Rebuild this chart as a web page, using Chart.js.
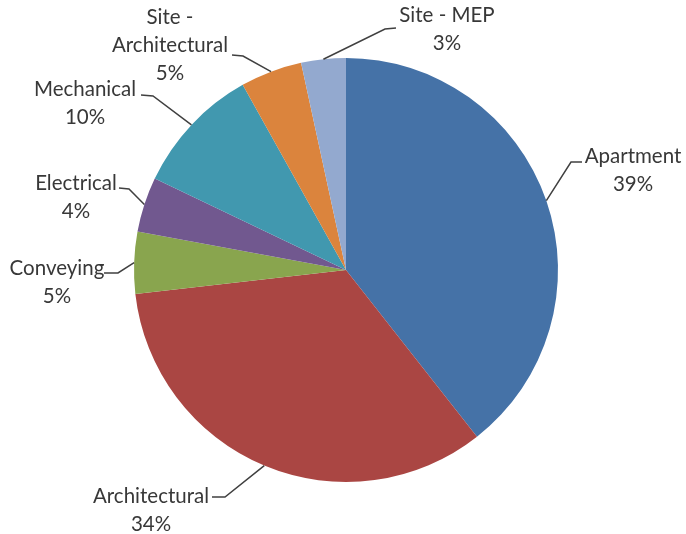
<!DOCTYPE html>
<html>
<head>
<meta charset="utf-8">
<script src="https://cdn.jsdelivr.net/npm/chart.js@4/dist/chart.umd.min.js"></script>
<style>
  html, body { margin: 0; padding: 0; background: #fff; }
  #wrap { width: 686px; height: 534px; }
</style>
</head>
<body>
<div id="wrap"><canvas id="pie"></canvas></div>
<script>
// slice data, clockwise from 12 o'clock
const categories = ['Apartment', 'Architectural', 'Conveying', 'Electrical', 'Mechanical', 'Site - Architectural', 'Site - MEP'];
const shares = [39.4, 33.8, 4.7, 4.2, 9.8, 4.7, 3.4];
const sliceColors = ['#4572A7', '#AA4643', '#89A54E', '#71588F', '#4198AF', '#DB843D', '#93A9CF'];

// label text lines (name split like the original)
const labelLines = [['Apartment'], ['Architectural'], ['Conveying'], ['Electrical'], ['Mechanical'], ['Site -', 'Architectural'], ['Site - MEP']];

// label layout: text centre x, first line y, leader start and elbow
const labelLayout = [
  { x: 633, y: 156, sx: 582, sy: 162, ex: 571, ey: 162 },
  { x: 151, y: 496, sx: 212, sy: 497, ex: 225, ey: 497 },
  { x: 57,  y: 268, sx: 104, sy: 273, ex: 118, ey: 273 },
  { x: 76,  y: 183, sx: 119, sy: 188, ex: 129, ey: 189 },
  { x: 85,  y: 89,  sx: 141, sy: 95,  ex: 153, ey: 96 },
  { x: 170, y: 17,  sx: 232, sy: 55,  ex: 243, ey: 56 },
  { x: 447, y: 15,  sx: 396, sy: 28,  ex: 385, ey: 29 }
];
const lineGap = 28;

const pieLabels = {
  id: 'pieLabels',
  afterDatasetsDraw(chart) {
    const ctx = chart.ctx;
    const arcs = chart.getDatasetMeta(0).data;
    ctx.save();
    ctx.font = '20.5px Lato';
    ctx.fillStyle = '#383838';
    ctx.strokeStyle = '#404040';
    ctx.lineWidth = 1.5;
    ctx.textAlign = 'center';
    ctx.textBaseline = 'middle';
    arcs.forEach((arc, i) => {
      const p = arc.getProps(['x', 'y', 'startAngle', 'endAngle', 'outerRadius'], true);
      const mid = (p.startAngle + p.endAngle) / 2;
      const px = p.x + Math.cos(mid) * p.outerRadius;
      const py = p.y + Math.sin(mid) * p.outerRadius;
      const L = labelLayout[i];
      ctx.beginPath();
      ctx.moveTo(L.sx, L.sy);
      ctx.lineTo(L.ex, L.ey);
      ctx.lineTo(px, py);
      ctx.stroke();
      const lines = labelLines[i].concat([Math.round(shares[i]) + '%']);
      lines.forEach((t, k) => ctx.fillText(t, L.x, L.y + k * lineGap));
    });
    ctx.restore();
  }
};

new Chart(document.getElementById('pie'), {
  type: 'pie',
  data: {
    labels: categories,
    datasets: [{ data: shares, backgroundColor: sliceColors, borderWidth: 0 }]
  },
  options: {
    responsive: true,
    maintainAspectRatio: false,
    animation: false,
    layout: { padding: { left: 134, right: 128, top: 58, bottom: 52 } },
    plugins: { legend: { display: false }, tooltip: { enabled: false } }
  },
  plugins: [pieLabels]
});
</script>
</body>
</html>
